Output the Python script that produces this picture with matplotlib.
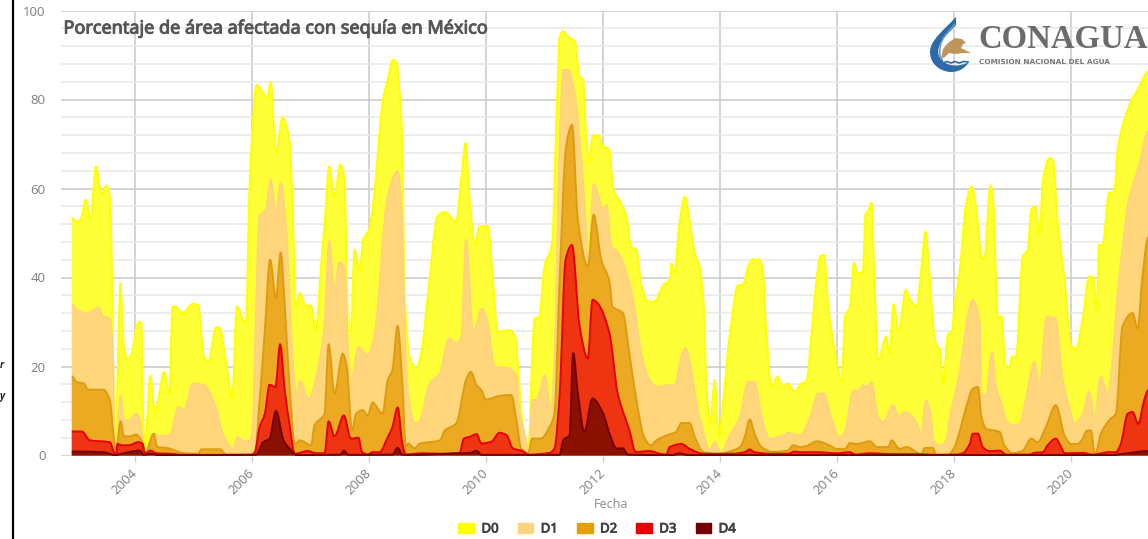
import numpy as np
import matplotlib
matplotlib.use('Agg')
import matplotlib.pyplot as plt
import matplotlib.patheffects as pe
from matplotlib.patches import Patch, PathPatch, Polygon
from matplotlib.path import Path

plt.rcParams['font.family'] = ['Open Sans', 'DejaVu Sans']

title = 'Porcentaje de área afectada con sequía en México'
xlabel = 'Fecha'
year_ticks = [2004, 2006, 2008, 2010, 2012, 2014, 2016, 2018, 2020]
y_major = [0, 20, 40, 60, 80, 100]
names = ['D0', 'D1', 'D2', 'D3', 'D4']

d0_x = [2002.92, 2003.0, 2003.07, 2003.16, 2003.24, 2003.33, 2003.43, 2003.51, 2003.57, 2003.61, 2003.64, 2003.67,
        2003.7, 2003.75, 2003.81, 2003.87, 2003.94, 2004.06, 2004.11, 2004.14, 2004.18, 2004.21, 2004.26, 2004.34,
        2004.5, 2004.59, 2004.64, 2004.68, 2004.82, 2004.99, 2005.08, 2005.18, 2005.25, 2005.39, 2005.45, 2005.56,
        2005.66, 2005.74, 2005.88, 2005.9, 2005.96, 2006.08, 2006.16, 2006.25, 2006.32, 2006.41, 2006.52, 2006.64,
        2006.7, 2006.74, 2006.82, 2006.91, 2007.01, 2007.09, 2007.18, 2007.25, 2007.32, 2007.41, 2007.51, 2007.58,
        2007.65, 2007.69, 2007.75, 2007.84, 2007.9, 2008.0, 2008.08, 2008.24, 2008.32, 2008.41, 2008.48, 2008.5,
        2008.56, 2008.61, 2008.7, 2008.81, 2008.9, 2009.01, 2009.18, 2009.3, 2009.49, 2009.58, 2009.65, 2009.72,
        2009.81, 2009.89, 2010.03, 2010.11, 2010.2, 2010.4, 2010.5, 2010.56, 2010.63, 2010.72, 2010.8, 2010.83,
        2010.91, 2011.0, 2011.13, 2011.2, 2011.26, 2011.32, 2011.4, 2011.52, 2011.6, 2011.66, 2011.71, 2011.76,
        2011.82, 2011.93, 2012.0, 2012.1, 2012.18, 2012.31, 2012.4, 2012.48, 2012.57, 2012.66, 2012.77, 2012.88,
        2013.03, 2013.14, 2013.17, 2013.225, 2013.3, 2013.4, 2013.47, 2013.57, 2013.65, 2013.72, 2013.77, 2013.83,
        2013.91, 2013.98, 2014.05, 2014.17, 2014.31, 2014.39, 2014.48, 2014.56, 2014.68, 2014.73, 2014.79, 2014.88,
        2014.98, 2015.08, 2015.16, 2015.28, 2015.36, 2015.48, 2015.57, 2015.65, 2015.72, 2015.78, 2015.85, 2015.94,
        2016.02, 2016.08, 2016.14, 2016.165, 2016.22, 2016.29, 2016.35, 2016.44, 2016.49, 2016.53, 2016.59, 2016.63,
        2016.7, 2016.84, 2016.89, 2016.97, 2017.05, 2017.18, 2017.24, 2017.36, 2017.44, 2017.51, 2017.585, 2017.65,
        2017.7, 2017.76, 2017.81, 2017.9, 2017.97, 2018.0, 2018.1, 2018.2, 2018.3, 2018.38, 2018.48, 2018.52,
        2018.62, 2018.665, 2018.75, 2018.81, 2018.88, 2018.95, 2018.99, 2019.06, 2019.175, 2019.26, 2019.32, 2019.39,
        2019.46, 2019.52, 2019.63, 2019.69, 2019.77, 2019.89, 2020.0, 2020.085, 2020.2, 2020.31, 2020.38, 2020.44,
        2020.48, 2020.54, 2020.65, 2020.74, 2020.8, 2021.02, 2021.14, 2021.32]
d0_y = [53.4, 52.5, 53, 57.5, 53, 65, 58.6, 60.7, 58.3, 38.7, 8.6, 0.4,
        16.2, 38.7, 24.4, 21.6, 22.9, 30, 29.7, 8.6, 0.4, 8.6, 18, 9.8,
        18.8, 13.9, 33.5, 33.5, 32.1, 34.1, 33.8, 22.2, 21, 28.9, 28.6, 20.7,
        12.8, 33.5, 30, 31, 61, 83.3, 82.2, 80.3, 84, 68, 76, 70.8,
        53.6, 33.5, 36.5, 33.8, 33.6, 28.2, 42.5, 53.8, 65, 58.3, 65.4, 62,
        28.2, 28, 46.2, 41.7, 48.5, 50.8, 57.5, 80, 84.4, 88.9, 88.2, 85.2,
        74, 36.5, 21.8, 19.6, 23.7, 36.5, 54.1, 54.7, 52.6, 62.7, 70.2, 57.5,
        47.3, 51.5, 51.5, 41, 27.8, 28.2, 26.7, 17.7, 6.5, 1.2, 25.2, 30.8,
        31.2, 42.5, 47.7, 74, 94.2, 95.3, 94.2, 93, 85.2, 84.4, 72.4, 65.7,
        71.7, 72, 69.4, 69, 59.7, 56.7, 53.7, 47, 46.2, 38, 34.6, 34.6,
        38.3, 39.5, 43.2, 41, 51.5, 58.2, 53.7, 45.5, 42.5, 34.2, 15.4, 7.1,
        16.9, 4.1, 11.7, 27.4, 38.3, 38.3, 42.5, 44.1, 44, 41.7, 28.2, 15.4,
        17.7, 15.4, 16.2, 14.3, 15.8, 16.9, 28.2, 39.4, 45, 45, 33.4, 25.2,
        19.2, 16.5, 31.6, 32, 33.4, 43.3, 41, 41.3, 54.4, 54.8, 56.8, 43.2,
        21.4, 26.7, 22.9, 34, 28, 37.3, 35.3, 33.4, 41.7, 50.3, 40.2, 28.2,
        24.8, 24, 16.2, 27.4, 27.8, 32.7, 41.7, 55.9, 60.4, 55.5, 44.3, 44.3,
        60.7, 58.2, 31.2, 31.2, 20.3, 19.9, 22.2, 22.2, 44.7, 46.2, 55.2, 56,
        49.9, 61.9, 66.8, 66.4, 52.9, 39.4, 24.8, 24, 30.8, 40.2, 40, 32.3,
        47.3, 47.3, 59, 59.3, 69.2, 79.4, 82.2, 86.3]

d1_x = [2002.92, 2003.06, 2003.2, 2003.375, 2003.46, 2003.57, 2003.62, 2003.65, 2003.68, 2003.72, 2003.755, 2003.81,
        2003.91, 2004.02, 2004.085, 2004.14, 2004.19, 2004.27, 2004.32, 2004.43, 2004.6, 2004.69, 2004.74, 2004.84,
        2004.99, 2005.18, 2005.4, 2005.48, 2005.63, 2005.68, 2005.75, 2005.88, 2005.97, 2006.02, 2006.05, 2006.13,
        2006.24, 2006.32, 2006.41, 2006.49, 2006.585, 2006.7, 2006.76, 2006.82, 2006.97, 2007.1, 2007.24, 2007.32,
        2007.41, 2007.49, 2007.58, 2007.64, 2007.69, 2007.82, 2007.98, 2008.09, 2008.32, 2008.49, 2008.57, 2008.61,
        2008.67, 2008.78, 2008.86, 2009.04, 2009.21, 2009.37, 2009.49, 2009.58, 2009.66, 2009.78, 2009.93, 2010.03,
        2010.15, 2010.4, 2010.52, 2010.57, 2010.66, 2010.74, 2010.79, 2010.875, 2011.0, 2011.11, 2011.17, 2011.26,
        2011.32, 2011.4, 2011.48, 2011.54, 2011.63, 2011.71, 2011.75, 2011.84, 2011.94, 2012.0, 2012.06, 2012.14,
        2012.25, 2012.48, 2012.68, 2012.8, 2012.94, 2013.11, 2013.225, 2013.34, 2013.41, 2013.51, 2013.62, 2013.74,
        2013.82, 2013.91, 2014.02, 2014.14, 2014.34, 2014.48, 2014.59, 2014.71, 2014.85, 2015.08, 2015.16, 2015.37,
        2015.54, 2015.68, 2015.78, 2015.88, 2016.05, 2016.14, 2016.28, 2016.36, 2016.45, 2016.51, 2016.59, 2016.7,
        2016.79, 2016.96, 2017.06, 2017.16, 2017.3, 2017.39, 2017.44, 2017.52, 2017.585, 2017.67, 2017.78, 2017.87,
        2017.93, 2018.07, 2018.32, 2018.44, 2018.47, 2018.55, 2018.65, 2018.72, 2018.81, 2018.89, 2019.0, 2019.12,
        2019.23, 2019.375, 2019.46, 2019.585, 2019.73, 2019.86, 2019.97, 2020.06, 2020.2, 2020.31, 2020.4, 2020.51,
        2020.625, 2020.82, 2020.99, 2021.16, 2021.32]
d1_y = [33.8, 32.3, 32, 33.3, 31.2, 30.8, 23.7, 2.6, 0.2, 8.6, 13.5, 7.9,
        7.9, 9.5, 7.9, 2.6, 0.4, 1.9, 4.9, 4.5, 4.5, 9, 10.9, 10.2,
        16.2, 15.8, 10.2, 5.6, 1.9, 1.5, 4.1, 3.2, 3.4, 7.9, 23.7, 53.8,
        55.3, 62, 54.1, 61.3, 50.8, 20.7, 13.5, 16.8, 12.6, 17.7, 29.7, 48.1,
        37.2, 43.4, 42.5, 23.7, 16.5, 24.3, 22.6, 26.7, 58.3, 63.9, 51.5, 29,
        14, 7.2, 7.6, 16.2, 18.5, 26.3, 25.2, 26.7, 48.5, 27.5, 33, 29.7,
        20, 19.6, 17.7, 10.2, 5, 0.5, 12.5, 12.5, 18, 10.2, 21.5, 70.2,
        86.7, 86.7, 83.7, 79.2, 66.5, 51.5, 42.5, 61, 57.5, 55.2, 56.3, 47,
        45.8, 37.2, 21.4, 16.9, 15.4, 15.8, 15.8, 22.2, 24.1, 19.2, 10.2, 4.1,
        1.1, 3, 0.4, 3.8, 8.6, 16.5, 16.5, 8.6, 3.8, 4.5, 5.1, 4.5,
        8.6, 13.9, 13.9, 9.4, 4.1, 5.6, 14.7, 14.5, 15.8, 15.4, 16.5, 8.6,
        7.5, 11.3, 8.6, 9.8, 8.6, 6.4, 4.5, 12.4, 10.2, 2.6, 2.3, 3.4,
        8.6, 16.9, 35, 29.7, 13.9, 13.5, 23.3, 15.4, 11.7, 7.9, 6.8, 7.1,
        12.8, 21, 15.4, 31.2, 30.8, 16.9, 10.9, 7.1, 9.4, 14.3, 8.6, 17.7,
        13.9, 39.5, 57.5, 65, 72.8]

d2_x = [2002.92, 2003.0, 2003.12, 2003.2, 2003.46, 2003.57, 2003.63, 2003.68, 2003.7, 2003.755, 2003.81, 2003.91,
        2004.02, 2004.11, 2004.19, 2004.26, 2004.32, 2004.38, 2004.54, 2004.85, 2005.08, 2005.14, 2005.45, 2005.56,
        2005.99, 2006.05, 2006.13, 2006.22, 2006.31, 2006.41, 2006.49, 2006.57, 2006.64, 2006.73, 2006.82, 2007.01,
        2007.07, 2007.24, 2007.31, 2007.41, 2007.55, 2007.62, 2007.71, 2007.78, 2007.89, 2007.98, 2008.06, 2008.23,
        2008.32, 2008.4, 2008.49, 2008.57, 2008.63, 2008.67, 2008.78, 2008.87, 2009.04, 2009.21, 2009.3, 2009.49,
        2009.66, 2009.74, 2009.84, 2009.92, 2010.0, 2010.23, 2010.43, 2010.52, 2010.6, 2010.72, 2010.79, 2010.94,
        2011.09, 2011.17, 2011.26, 2011.37, 2011.47, 2011.57, 2011.74, 2011.84, 2011.97, 2012.11, 2012.16, 2012.34,
        2012.45, 2012.59, 2012.7, 2012.82, 2012.91, 2013.08, 2013.25, 2013.34, 2013.48, 2013.57, 2013.71, 2013.99,
        2014.14, 2014.34, 2014.42, 2014.51, 2014.59, 2014.71, 2014.9, 2015.16, 2015.25, 2015.37, 2015.51, 2015.65,
        2015.82, 2016.0, 2016.14, 2016.22, 2016.34, 2016.56, 2016.68, 2016.875, 2016.93, 2017.07, 2017.19, 2017.39,
        2017.44, 2017.5, 2017.64, 2017.69, 2017.9, 2018.01, 2018.085, 2018.21, 2018.32, 2018.41, 2018.47, 2018.55,
        2018.69, 2018.78, 2018.86, 2019.0, 2019.175, 2019.32, 2019.43, 2019.57, 2019.74, 2019.89, 2020.0, 2020.11,
        2020.2, 2020.27, 2020.34, 2020.41, 2020.51, 2020.65, 2020.77, 2020.88, 2021.05, 2021.14, 2021.22, 2021.32]
d2_y = [17.8, 16.5, 16.2, 14.8, 14.8, 12.4, 4.9, 0.4, 2.6, 7.7, 4.3, 4.3,
        4.7, 3.4, 0.5, 3.4, 4.9, 1.9, 1.7, 0.5, 0.4, 1.4, 1.4, 0.2,
        0.2, 0.7, 12.4, 28.2, 44, 35.3, 45.6, 31.2, 16.2, 2.6, 3.4, 2.3,
        6.8, 9.4, 25, 13.9, 22.9, 19.9, 5.6, 9.4, 10.2, 9, 11.9, 9.4,
        16.9, 19.2, 29.1, 16.2, 1.9, 2.7, 1.6, 2.7, 3, 3.4, 5.7, 7.2,
        17, 18.8, 15.8, 14.7, 12.6, 13.4, 13.6, 8, 1.6, 0.5, 3.8, 3.8,
        6.5, 9.5, 40.2, 69.5, 74.3, 53, 42.5, 54.1, 44, 39.1, 33.5, 32,
        23, 11, 4.2, 2.3, 3.4, 4.5, 5.3, 7.3, 7.3, 4.1, 0.8, 0.2,
        0.8, 1.9, 4.1, 8.1, 4.9, 1.9, 0.8, 1.1, 2.3, 1.9, 2.3, 3.2,
        2.6, 1.5, 1.5, 2.8, 2.6, 3.2, 1.9, 1.9, 3.4, 1.5, 1.9, 0.5,
        0.2, 1.7, 1.7, 0.2, 0.2, 1.9, 4.9, 10.9, 15, 15.4, 8.6, 6,
        5.6, 5.3, 2.3, 0.5, 1.1, 3.8, 3, 6.4, 11.3, 4.5, 2.6, 2.6,
        3.8, 5.6, 5.6, 0.2, 4.9, 7.9, 9.5, 29, 32, 28.6, 40, 49]

d3_x = [2002.92, 2003.09, 2003.23, 2003.57, 2003.64, 2003.68, 2003.7, 2003.77, 2003.89, 2004.06, 2004.13, 2004.17,
        2004.26, 2004.37, 2004.6, 2004.82, 2005.99, 2006.05, 2006.13, 2006.22, 2006.3, 2006.4, 2006.48, 2006.56,
        2006.64, 2006.73, 2006.95, 2007.1, 2007.24, 2007.31, 2007.41, 2007.57, 2007.69, 2007.82, 2007.88, 2007.98,
        2008.06, 2008.18, 2008.32, 2008.4, 2008.49, 2008.57, 2008.63, 2008.9, 2009.21, 2009.55, 2009.62, 2009.72,
        2009.84, 2009.92, 2010.09, 2010.23, 2010.35, 2010.46, 2010.63, 2010.72, 2011.09, 2011.17, 2011.26, 2011.36,
        2011.47, 2011.6, 2011.74, 2011.82, 2011.91, 2012.11, 2012.25, 2012.39, 2012.45, 2012.56, 2012.79, 2012.96,
        2013.08, 2013.14, 2013.34, 2013.48, 2013.71, 2014.22, 2014.42, 2014.51, 2014.59, 2014.85, 2015.16, 2015.28,
        2015.36, 2015.65, 2016.0, 2016.22, 2016.31, 2016.56, 2016.96, 2017.39, 2017.67, 2018.04, 2018.15, 2018.27,
        2018.32, 2018.41, 2018.49, 2018.61, 2018.78, 2018.89, 2019.29, 2019.375, 2019.52, 2019.6, 2019.74, 2019.83,
        2019.89, 2020.2, 2020.37, 2020.65, 2020.77, 2020.85, 2020.97, 2021.05, 2021.15, 2021.25, 2021.32]
d3_y = [5.4, 5.4, 3.4, 3, 0.75, 0.2, 2.6, 2.3, 2.3, 3, 2.6, 0.4,
        1.1, 0.5, 0.4, 0.15, 0.15, 0.75, 6.4, 9.4, 15.9, 15.4, 25, 14.7,
        7.1, 0.4, 1, 0.5, 0.5, 7.7, 4.3, 9, 3.8, 4, 0.75, 0.2,
        0.75, 0.75, 4.1, 6.4, 10.8, 2.6, 0.2, 0.5, 0.4, 0.6, 3.8, 4.2,
        4.8, 2.7, 3.1, 5.1, 4.6, 1.6, 1, 0.15, 0.6, 1.6, 14, 44,
        47.3, 29, 21.8, 35, 34.2, 27.5, 14, 8, 5.7, 0.8, 1, 0.45,
        0.2, 1.9, 2.6, 1.5, 0.4, 0.4, 0.75, 1.35, 0.75, 0.4, 0.4, 0.9,
        0.75, 0.75, 0.5, 0.75, 0.2, 0.5, 0.3, 0.3, 0.15, 0.2, 0.5, 2.6,
        4.9, 4.9, 1.9, 1, 1.1, 0.2, 0.2, 0.6, 0.75, 2.3, 3.8, 1.9,
        0.5, 0.6, 0.2, 0.75, 0.75, 2.6, 9.4, 9.8, 7.1, 12.4, 14.7]

d4_x = [2002.92, 2003.46, 2003.66, 2003.8, 2004.085, 2004.15, 2004.28, 2004.4, 2006.07, 2006.19, 2006.3, 2006.41,
        2006.54, 2006.7, 2006.76, 2007.52, 2007.57, 2007.64, 2008.4, 2008.49, 2008.57, 2009.72, 2009.84, 2009.92,
        2011.26, 2011.32, 2011.43, 2011.49, 2011.57, 2011.68, 2011.82, 2012.0, 2012.11, 2012.23, 2012.34, 2012.42,
        2013.2, 2013.3, 2013.45, 2020.7, 2020.85, 2021.32]
d4_y = [0.9, 0.75, 0.1, 0.5, 1.1, 0.15, 0.4, 0.1, 0.15, 3, 3.8, 10,
        3.4, 0.75, 0.1, 0.2, 1.1, 0.15, 0.2, 1.7, 0.15, 0.6, 1.05, 0.15,
        0.15, 3.45, 4.6, 23, 14, 5.3, 12.8, 9.5, 5, 1.6, 1.6, 0.2,
        0.1, 0.5, 0.1, 0.1, 0.3, 1]

series_x = [d0_x, d1_x, d2_x, d3_x, d4_x]
series_y = [d0_y, d1_y, d2_y, d3_y, d4_y]
fill_colors = ['#ffff38', '#ffd67c', '#ecaa22', '#ee3410', '#8a1000']
line_colors = ['#ffff00', '#fcd37f', '#dd9c10', '#e60000', '#730000']
legend_colors = ['#ffff00', '#fcd37f', '#e69f00', '#e60000', '#730000']


def spline_path(x, y, closed=False):
    # monotone bezier through the read points, the chart uses a smoothed area
    x = np.array(x)
    y = np.array(y)
    h = np.diff(x)
    s = np.diff(y) / h
    m = np.zeros(len(x))
    for i in range(1, len(x) - 1):
        if s[i - 1] * s[i] > 0:
            m[i] = 2 * s[i - 1] * s[i] / (s[i - 1] + s[i])
    verts = [(x[0], 0), (x[0], y[0])] if closed else [(x[0], y[0])]
    codes = [Path.MOVETO, Path.LINETO] if closed else [Path.MOVETO]
    for i in range(len(h)):
        verts += [(x[i] + h[i] / 3, y[i] + m[i] * h[i] / 3),
                  (x[i + 1] - h[i] / 3, y[i + 1] - m[i + 1] * h[i] / 3),
                  (x[i + 1], y[i + 1])]
        codes += [Path.CURVE4] * 3
    if closed:
        verts += [(x[-1], 0), (x[0], 0)]
        codes += [Path.LINETO, Path.CLOSEPOLY]
    return Path(verts, codes)


W, H = 1148, 539
fig = plt.figure(figsize=(W / 100, H / 100), dpi=100)
ax = fig.add_axes([61 / W, (H - 455.5) / H, (W - 61) / W, 445 / H])

for x, y, fc, lc in zip(series_x, series_y, fill_colors, line_colors):
    ax.add_patch(PathPatch(spline_path(x, y, closed=True), fc=fc, ec='none', zorder=3))
    ax.add_patch(PathPatch(spline_path(x, y), fc='none', ec=lc, lw=1.4, zorder=3, joinstyle='round'))

ax.set_xlim(2002.735, 2021.316)
ax.set_ylim(0, 100)
ax.set_xticks(year_ticks)
ax.set_xticklabels([str(v) for v in year_ticks], rotation=45, ha='right', va='center', rotation_mode='anchor')
ax.set_yticks(y_major)
ax.set_yticks([v for v in range(0, 101, 4) if v not in y_major], minor=True)
ax.grid(True, which='major', color='#cdcdcd', lw=1.2)
ax.grid(True, which='minor', axis='y', color='#e8e8e8', lw=1.1)
ax.set_axisbelow(True)
ax.tick_params(axis='y', which='both', length=0, labelsize=9.5, labelcolor='#7f7f7f', pad=11)
ax.tick_params(axis='x', length=4, width=1, color='#cdcdcd', labelsize=9.5, labelcolor='#7f7f7f', pad=7)
for s in ax.spines.values():
    s.set_visible(False)
ax.set_xlabel(xlabel, fontsize=9, color='#8c8c8c', labelpad=0)
ax.xaxis.set_label_coords((611 - 61) / (W - 61), -(505 - 455.5) / 445, transform=ax.transAxes)
ax.xaxis.label.set_va('center')

# bold faces of the installed fonts come out condensed, so thicken the regular one
fig.text(63.5 / W, 1 - 28.5 / H, title, family='Noto Sans', fontsize=13, color='#565656', va='center',
         path_effects=[pe.withStroke(linewidth=0.7, foreground='#565656')])

handles = [Patch(color=c, label=n) for c, n in zip(legend_colors, names)]
leg = fig.legend(handles=handles, ncol=5, loc='center', bbox_to_anchor=(597 / W, 1 - 529 / H), frameon=False,
                 prop={'family': 'Noto Sans', 'size': 9.5}, handlelength=1.2, handleheight=0.85,
                 handletextpad=0.55, columnspacing=1.45, borderpad=0)
for t in leg.get_texts():
    t.set_color('#404040')
    t.set_path_effects([pe.withStroke(linewidth=0.6, foreground='#404040')])

# logo and frame drawn in pixel coordinates over the chart
over = fig.add_axes([0, 0, 1, 1], facecolor='none', zorder=10)
over.set_xlim(0, W)
over.set_ylim(H, 0)
over.axis('off')
over.plot([12.8, 12.8], [0, H], color='black', lw=1.6)
over.text(0, 366, 'r', fontsize=7, style='italic', fontweight='bold', color='#222222', va='center')
over.text(0, 396, 'y', fontsize=7, style='italic', fontweight='bold', color='#222222', va='center')

drop = Path([(956, 17), (944, 30), (930, 40), (930, 52), (930, 66), (943, 72), (951, 72), (960, 72), (966, 67), (969, 62),
             (960, 67), (945, 68), (939, 56), (935, 44), (948, 34), (956, 25), (956, 17)],
            [Path.MOVETO] + [Path.CURVE4] * 15 + [Path.CLOSEPOLY])
over.add_patch(PathPatch(drop, fc='#2c6aa8', ec='none'))
over.add_patch(PathPatch(Path([(955, 24), (948, 32), (941, 38), (940, 48), (939, 55), (941, 60), (943, 60)],
                              [Path.MOVETO] + [Path.CURVE4] * 6), fc='none', ec='#5f9bd0', lw=1.1))
eagle = [(941, 59), (943, 49), (948, 43), (955, 38), (962, 39), (966, 43), (963, 44), (961, 48), (971, 53), (963, 53),
         (955, 54), (949, 53), (945, 57)]
over.add_patch(Polygon(eagle, closed=True, fc='#c0955a', ec='none'))
over.plot([943, 947, 951, 955, 959, 964, 968], [63, 61.5, 63, 61.5, 63, 61.5, 62], color='#2c6aa8', lw=1.2)
over.text(978.5, 40, 'CONAGUA', family='Liberation Serif', fontweight='bold', fontsize=23.6, color='#6b6b6b', va='center')
over.text(979, 61.5, 'COMISIÓN NACIONAL DEL AGUA', family='DejaVu Sans', fontsize=5.3, fontweight='bold',
          color='#777777', va='center')

fig.savefig('out.png', dpi=100, facecolor='white')
